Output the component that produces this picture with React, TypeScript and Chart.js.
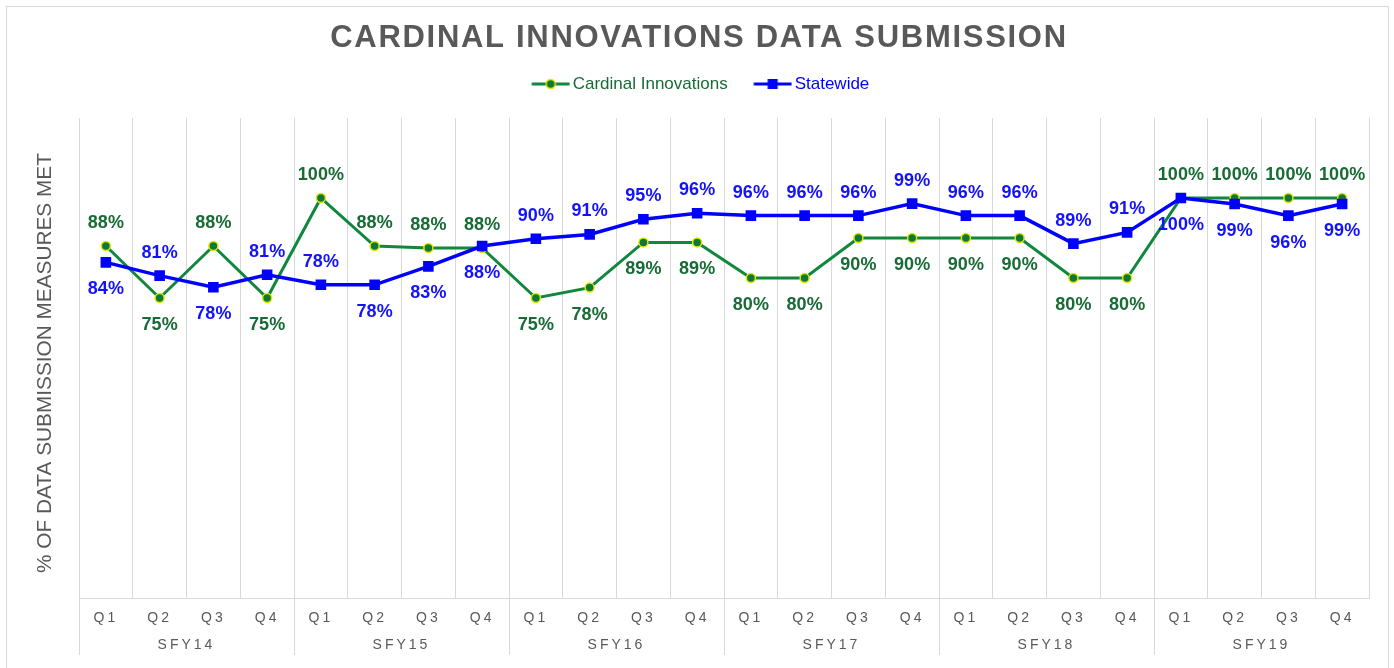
import React, { useEffect, useRef } from "react";
import { Chart, registerables } from "chart.js";

Chart.register(...registerables);

const FISCAL_YEARS = ["SFY14", "SFY15", "SFY16", "SFY17", "SFY18", "SFY19"];
const QUARTERS = ["Q1", "Q2", "Q3", "Q4"];
const CATEGORY_QUARTERS = FISCAL_YEARS.flatMap(() => QUARTERS);

const CARDINAL = [
  88, 75, 88, 75,
  100, 88, 87.5, 87.5,
  75, 77.6, 88.9, 88.9,
  80, 80, 90, 90,
  90, 90, 80, 80,
  100, 100, 100, 100,
];
const STATEWIDE = [
  83.9, 80.6, 77.7, 80.8,
  78.3, 78.3, 82.9, 88,
  89.8, 90.9, 94.7, 96.2,
  95.6, 95.6, 95.6, 98.6,
  95.6, 95.6, 88.6, 91.4,
  100, 98.5, 95.6, 98.5,
];
// label placement relative to each point: "a" above, "b" below
const CARDINAL_LABEL_SIDE = [
  "a", "b", "a", "b",
  "a", "a", "a", "a",
  "b", "b", "b", "b",
  "b", "b", "b", "b",
  "b", "b", "b", "b",
  "a", "a", "a", "a",
];
const STATEWIDE_LABEL_SIDE = [
  "b", "a", "b", "a",
  "a", "b", "b", "b",
  "a", "a", "a", "a",
  "a", "a", "a", "a",
  "a", "a", "a", "a",
  "b", "b", "b", "b",
];
const SERIES_NAMES = ["Cardinal Innovations", "Statewide"];

const FONT = '"Liberation Sans", Arial, sans-serif';
const GREEN_LINE = "#0f873d";
const GREEN_POINT = "#0b7a36";
const GREEN_TEXT = "#176b35";
const YELLOW = "#e3e600";
const BLUE = "#0000ff";
const BLUE_TEXT = "#1212ff";
const GRID = "#d9d9d9";
const GRAY_TEXT = "#595959";

function makeSwatch(kind: "circle" | "square"): HTMLCanvasElement {
  const c = document.createElement("canvas");
  c.width = 48;
  c.height = 14;
  const g = c.getContext("2d")!;
  const mx = 28.25;
  g.lineWidth = 3;
  g.strokeStyle = kind === "circle" ? GREEN_LINE : BLUE;
  g.beginPath();
  g.moveTo(mx - 19, 7);
  g.lineTo(mx + 19, 7);
  g.stroke();
  if (kind === "circle") {
    g.beginPath();
    g.arc(mx, 7, 4.5, 0, Math.PI * 2);
    g.fillStyle = GREEN_POINT;
    g.fill();
    g.lineWidth = 1.5;
    g.strokeStyle = YELLOW;
    g.stroke();
  } else {
    g.fillStyle = BLUE;
    g.fillRect(mx - 5, 2, 10, 10);
  }
  return c;
}

function wrapDraw(obj: any, method: string, before: (c: any) => void) {
  if (!obj || obj["__wrapped_" + method]) return;
  const orig = obj[method];
  obj[method] = function (...args: any[]) {
    const c = this.ctx as any;
    c.save();
    before(c);
    orig.apply(this, args);
    c.restore();
  };
  obj["__wrapped_" + method] = true;
}

const textStylePlugin = {
  id: "textStylePlugin",
  beforeDraw(chart: any) {
    (chart.ctx as any).letterSpacing = "0px";
    wrapDraw(chart.titleBlock, "draw", (c) => (c.letterSpacing = "1.7px"));
    wrapDraw(chart.scales.x, "drawLabels", (c) => (c.letterSpacing = "3px"));
    wrapDraw(chart.scales.x2, "drawLabels", (c) => (c.letterSpacing = "3px"));
    wrapDraw(chart.scales.y, "drawTitle", (c) => c.translate(0, 5));
  },
};

const valueLabels = {
  id: "valueLabels",
  afterDatasetsDraw(chart: any) {
    const ctx = chart.ctx;
    const sides = [CARDINAL_LABEL_SIDE, STATEWIDE_LABEL_SIDE];
    const colors = [GREEN_TEXT, BLUE_TEXT];
    ctx.save();
    ctx.letterSpacing = "0px";
    ctx.font = `bold 18px ${FONT}`;
    ctx.textAlign = "center";
    ctx.textBaseline = "middle";
    chart.data.datasets.forEach((ds: any, di: number) => {
      const meta = chart.getDatasetMeta(di);
      ctx.fillStyle = colors[di];
      meta.data.forEach((pt: any, i: number) => {
        const v = ds.data[i];
        const above = sides[di][i] === "a";
        ctx.fillText(`${Math.round(v)}%`, pt.x, pt.y + (above ? -23 : 27));
      });
    });
    ctx.restore();
  },
};

export default function App() {
  const canvasRef = useRef<HTMLCanvasElement | null>(null);

  useEffect(() => {
    document.documentElement.style.overflow = "hidden";
    const canvas = canvasRef.current;
    if (!canvas) return;
    const swatches = [makeSwatch("circle"), makeSwatch("square")];
    const legendColors = [GREEN_TEXT, BLUE];

    const chart = new Chart(canvas, {
      type: "line",
      data: {
        labels: CATEGORY_QUARTERS,
        datasets: [
          {
            label: SERIES_NAMES[0],
            data: CARDINAL,
            order: 1,
            borderColor: GREEN_LINE,
            borderWidth: 3,
            pointRadius: 4.5,
            pointBackgroundColor: GREEN_POINT,
            pointBorderColor: YELLOW,
            pointBorderWidth: 1.5,
            tension: 0,
            xAxisID: "x",
            yAxisID: "y",
          },
          {
            label: SERIES_NAMES[1],
            data: STATEWIDE,
            order: 0,
            borderColor: BLUE,
            borderWidth: 3.5,
            pointStyle: "rect",
            pointRadius: 7.5,
            pointBackgroundColor: BLUE,
            pointBorderColor: BLUE,
            pointBorderWidth: 0,
            tension: 0,
            xAxisID: "x",
            yAxisID: "y",
          },
        ],
      },
      options: {
        animation: false,
        responsive: true,
        maintainAspectRatio: false,
        layout: { padding: { left: 22, right: 19, top: 0, bottom: 5 } },
        font: { family: FONT },
        color: GRAY_TEXT,
        plugins: {
          tooltip: { enabled: false },
          title: {
            display: true,
            text: "CARDINAL INNOVATIONS DATA SUBMISSION",
            color: GRAY_TEXT,
            font: { family: FONT, size: 31, weight: "bold" },
            padding: { top: 12.4, bottom: -4.1 },
          },
          legend: {
            display: true,
            position: "top",
            labels: {
              usePointStyle: true,
              pointStyleWidth: 35.5,
              padding: 23,
              font: { family: FONT, size: 17 },
              generateLabels: (c: any) =>
                c.data.datasets.map((ds: any, i: number) => ({
                  text: ds.label,
                  fillStyle: "transparent",
                  strokeStyle: "transparent",
                  lineWidth: 0,
                  pointStyle: swatches[i],
                  fontColor: legendColors[i],
                  hidden: false,
                  datasetIndex: i,
                })),
            },
          },
          subtitle: {
            display: true,
            text: "",
            weight: 500,
            font: { size: 1 },
            padding: { top: 0, bottom: 14.3 },
          } as any,
        },
        scales: {
          x: {
            type: "category",
            position: "bottom",
            weight: 0,
            offset: true,
            grid: {
              display: true,
              offset: true,
              drawOnChartArea: true,
              color: GRID,
              lineWidth: 1,
              drawTicks: true,
              tickLength: 57,
              tickColor: (ctx: any) => (ctx.index % 4 === 0 ? GRID : "rgba(0,0,0,0)"),
            },
            border: { display: true, color: GRID, width: 1 },
            ticks: {
              autoSkip: false,
              maxRotation: 0,
              padding: -45,
              color: GRAY_TEXT,
              font: { family: FONT, size: 14 },
            },
            afterFit: (s: any) => {
              s.height = 30;
            },
          },
          x2: {
            type: "category",
            position: "bottom",
            weight: 1,
            labels: FISCAL_YEARS,
            offset: true,
            grid: { display: false, drawTicks: false },
            border: { display: false },
            ticks: {
              autoSkip: false,
              maxRotation: 0,
              padding: 9,
              color: GRAY_TEXT,
              font: { family: FONT, size: 14 },
            },
            afterFit: (s: any) => {
              s.height = 35;
            },
          },
          y: {
            type: "linear",
            min: 0,
            max: 120,
            grid: { display: false },
            border: { display: false },
            ticks: { display: false },
            title: {
              display: true,
              text: "% OF DATA SUBMISSION MEASURES MET",
              color: GRAY_TEXT,
              font: { family: FONT, size: 20.8 },
              padding: { top: 4, bottom: 4 },
            },
            afterFit: (s: any) => {
              s.width = 50;
            },
          },
        } as any,
      },
      plugins: [textStylePlugin, valueLabels],
    } as any);

    return () => {
      chart.destroy();
    };
  }, []);

  return (
    <div
      style={{
        position: "absolute",
        left: 6,
        top: 6,
        width: 1383,
        height: 662,
        boxSizing: "border-box",
        borderTop: `1px solid ${GRID}`,
        borderLeft: `1px solid ${GRID}`,
        borderRight: `1px solid ${GRID}`,
        background: "#ffffff",
      }}
    >
      <div style={{ position: "relative", width: 1381, height: 661 }}>
        <canvas ref={canvasRef} />
      </div>
    </div>
  );
}
